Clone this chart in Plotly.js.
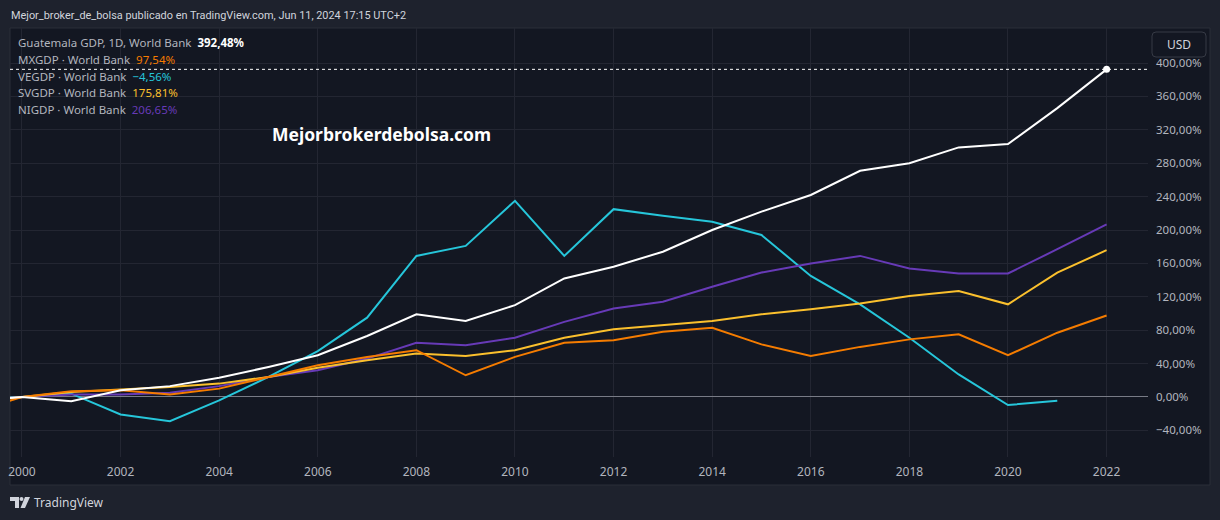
<!DOCTYPE html>
<html>
<head>
<meta charset="utf-8">
<script src="https://cdn.plot.ly/plotly-3.0.1.min.js"></script>
<style>
  html, body { margin: 0; padding: 0; background: #1e222d; }
  #myDiv { width: 1220px; height: 520px; }
</style>
</head>
<body>
<div id="myDiv"></div>
<script>
// annual GDP, % change against the first visible bar (2000)
var years = [1999, 2000, 2001, 2002, 2003, 2004, 2005, 2006, 2007, 2008, 2009, 2010,
             2011, 2012, 2013, 2014, 2015, 2016, 2017, 2018, 2019, 2020, 2021, 2022];

var guatemala = [-5, 0, -5, 8, 13, 23, 36, 50, 73, 99, 91, 110,
                 142, 156, 174, 200, 222, 242, 271, 280, 299, 303, 346, 392.48];
var mexico = [-18, 0, 7, 8, 3, 10, 24, 38, 48, 56, 26, 48,
              65, 68, 78, 83, 63, 49, 60, 69, 75, 50, 77, 97.54];
var venezuela = [-4, 0, 4, -21, -29, -4, 24, 55, 95, 169, 181, 235,
                 169, 225, 217, 210, 194, 145, 111, 71, 27, -9.6, -4.56, null];
var elSalvador = [-6, 0, 6, 9, 12, 16, 24, 35, 44, 52, 49, 56,
                  71, 81, 86, 91, 99, 105, 112, 121, 127, 111, 149, 175.81];
var nicaragua = [-5, 0, 3, 3, 5, 13, 24, 32, 46, 65, 62, 71,
                 90, 106, 114, 132, 149, 160, 169, 154, 148, 148, 177, 206.65];

var seriesLabels = ['Guatemala GDP, 1D, World Bank', 'MXGDP · World Bank', 'VEGDP · World Bank',
                    'SVGDP · World Bank', 'NIGDP · World Bank'];
var seriesValues = [guatemala, mexico, venezuela, elSalvador, nicaragua];
var seriesColors = ['#ffffff', '#f57c00', '#26c6da', '#fbc02d', '#673ab7'];

var xTicks = [2000, 2002, 2004, 2006, 2008, 2010, 2012, 2014, 2016, 2018, 2020, 2022];
var yTicks = [-40, 0, 40, 80, 120, 160, 200, 240, 280, 320, 360, 400];

// plot area in pixels: x 10..1148, y 28..457
function px(x) { return (x - 10) / 1138; }
function py(y) { return (457 - y) / 429; }

function lastValue(arr) {
  for (var i = arr.length - 1; i >= 0; i--) {
    if (arr[i] !== null) return arr[i];
  }
  return null;
}
function fmtPct(v) {
  var s = Math.abs(v).toFixed(2).replace('.', ',') + '%';
  return (v < 0 ? '\u2212' : '') + s;
}

function line(y, color) {
  return {
    x: years, y: y, type: 'scatter', mode: 'lines',
    line: { color: color, width: 2 },
    hoverinfo: 'skip', showlegend: false
  };
}

// draw order: cyan, purple, yellow, orange, white on top
var data = [
  line(venezuela, seriesColors[2]),
  line(nicaragua, seriesColors[4]),
  line(elSalvador, seriesColors[3]),
  line(mexico, seriesColors[1]),
  line(guatemala, seriesColors[0]),
  {
    x: [years[years.length - 1]], y: [lastValue(guatemala)],
    type: 'scatter', mode: 'markers',
    marker: { color: '#ffffff', size: 7 },
    hoverinfo: 'skip', showlegend: false
  }
];

var annotations = [];
annotations.push({
  xref: 'paper', yref: 'paper', x: px(9), y: py(15),
  xanchor: 'left', yanchor: 'middle', showarrow: false,
  text: 'Mejor_broker_de_bolsa publicado en TradingView.com, Jun 11, 2024 17:15 UTC+2',
  font: { family: 'Roboto', size: 10.9, color: '#d1d4dc' }
});
var rowY = [42, 59, 76, 92, 109];
for (var i = 0; i < seriesLabels.length; i++) {
  var val = fmtPct(lastValue(seriesValues[i]));
  var valTxt = i === 0 ? '<b>' + val + '</b>' : val;
  annotations.push({
    xref: 'paper', yref: 'paper', x: px(16), y: py(rowY[i]),
    xanchor: 'left', yanchor: 'middle', showarrow: false,
    text: seriesLabels[i] + '  <span style="color:' + seriesColors[i] + '">' + valTxt + '</span>',
    font: { family: 'Noto Sans', size: 11.5, color: '#b2b5be' }
  });
}
annotations.push({
  xref: 'paper', yref: 'paper', x: px(382), y: py(134),
  xanchor: 'center', yanchor: 'middle', showarrow: false,
  text: '<b>Mejorbrokerdebolsa.com</b>',
  font: { family: 'Noto Sans', size: 17.5, color: '#ffffff' }
});
annotations.push({
  xref: 'paper', yref: 'paper', x: px(1179), y: py(44.5),
  xanchor: 'center', yanchor: 'middle', showarrow: false,
  text: 'USD',
  font: { family: 'Noto Sans', size: 12, color: '#d1d4dc' }
});
annotations.push({
  xref: 'paper', yref: 'paper', x: px(32), y: py(502),
  xanchor: 'left', yanchor: 'middle', showarrow: false,
  text: 'TradingView',
  font: { family: 'Noto Sans', size: 12, color: '#d1d4dc' }
});

function roundRect(x0, y0, x1, y1, r) {
  var rx = r / 1138, ry = r / 429;
  var a = px(x0), b = px(x1), t = py(y0), u = py(y1);
  return 'M' + (a + rx) + ',' + t + ' L' + (b - rx) + ',' + t +
    ' Q' + b + ',' + t + ' ' + b + ',' + (t - ry) +
    ' L' + b + ',' + (u + ry) + ' Q' + b + ',' + u + ' ' + (b - rx) + ',' + u +
    ' L' + (a + rx) + ',' + u + ' Q' + a + ',' + u + ' ' + a + ',' + (u + ry) +
    ' L' + a + ',' + (t - ry) + ' Q' + a + ',' + t + ' ' + (a + rx) + ',' + t + ' Z';
}
function poly(pts) {
  return 'M' + pts.map(function (p) { return px(p[0]) + ',' + py(p[1]); }).join(' L') + ' Z';
}

var shapes = [
  // chart pane
  {
    type: 'rect', xref: 'paper', yref: 'paper', layer: 'below',
    x0: px(10), x1: px(1210), y0: py(485), y1: py(28),
    fillcolor: '#131722', line: { color: '#2a2e39', width: 1 }
  },
  // last value dotted line
  {
    type: 'line', xref: 'paper', yref: 'y', x0: 0, x1: 1,
    y0: lastValue(guatemala), y1: lastValue(guatemala),
    line: { color: '#ffffff', width: 1, dash: 'dot' }
  },
  // currency box
  {
    type: 'path', xref: 'paper', yref: 'paper', layer: 'above',
    path: roundRect(1152, 32, 1206, 57, 4),
    fillcolor: '#131722', line: { color: '#363a45', width: 1 }
  },
  // TradingView logo
  {
    type: 'path', xref: 'paper', yref: 'paper', layer: 'above',
    path: poly([[10, 497], [19, 497], [19, 508], [15, 508], [15, 501], [10, 501]]),
    fillcolor: '#d1d4dc', line: { width: 0 }
  },
  {
    type: 'circle', xref: 'paper', yref: 'paper', layer: 'above',
    x0: px(19.5), x1: px(23.5), y0: py(501), y1: py(497),
    fillcolor: '#d1d4dc', line: { width: 0 }
  },
  {
    type: 'path', xref: 'paper', yref: 'paper', layer: 'above',
    path: poly([[25, 497], [30, 497], [25, 508], [20.5, 508]]),
    fillcolor: '#d1d4dc', line: { width: 0 }
  }
];

var layout = {
  width: 1220,
  height: 520,
  margin: { l: 10, r: 72, t: 28, b: 63 },
  paper_bgcolor: '#1e222d',
  plot_bgcolor: '#131722',
  showlegend: false,
  xaxis: {
    range: [1999.757, 2022.84],
    tickvals: xTicks,
    ticktext: xTicks.map(String),
    showgrid: true,
    gridcolor: '#232632',
    zeroline: false,
    showline: false,
    ticks: '',
    ticklabelstandoff: 6,
    tickfont: { family: 'Noto Sans', size: 12, color: '#b2b5be' }
  },
  yaxis: {
    side: 'right',
    range: [-71.9, 442],
    tickvals: yTicks,
    ticktext: yTicks.map(fmtPct),
    showgrid: true,
    gridcolor: '#232632',
    zeroline: true,
    zerolinecolor: '#787b86',
    zerolinewidth: 1,
    showline: false,
    ticks: '',
    ticklabelstandoff: 7,
    tickfont: { family: 'Noto Sans', size: 11.5, color: '#b2b5be' }
  },
  annotations: annotations,
  shapes: shapes
};

Plotly.newPlot('myDiv', data, layout, { displayModeBar: false, staticPlot: true });
</script>
</body>
</html>
